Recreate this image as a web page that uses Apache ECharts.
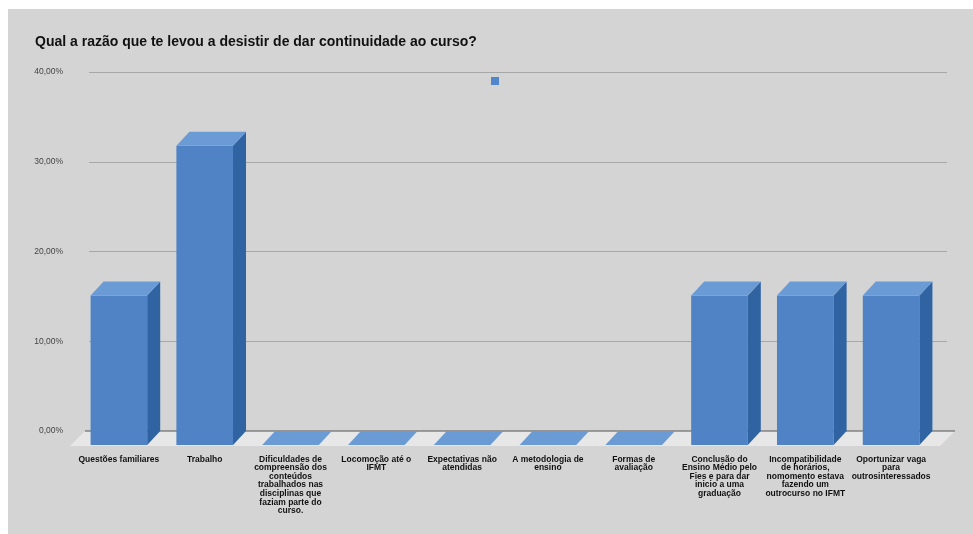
<!DOCTYPE html>
<html>
<head>
<meta charset="utf-8">
<script src="https://cdn.jsdelivr.net/npm/echarts@6/dist/echarts.min.js"></script>
<style>
html,body{margin:0;padding:0;background:#fff;width:973px;height:534px;overflow:hidden;}
#c{position:absolute;left:8px;top:9px;width:965px;height:525px;}
</style>
</head>
<body>
<div id="c"></div>
<script>
var titleText = 'Qual a razão que te levou a desistir de dar continuidade ao curso?';
var categories = [
  'Questões familiares',
  'Trabalho',
  'Dificuldades de\ncompreensão dos\nconteúdos\ntrabalhados nas\ndisciplinas que\nfaziam parte do\ncurso.',
  'Locomoção até o\nIFMT',
  'Expectativas não\natendidas',
  'A metodologia de\nensino',
  'Formas de\navaliação',
  'Conclusão do\nEnsino Médio pelo\nFies e para dar\ninicio a uma\ngraduação',
  'Incompatibilidade\nde horários,\nnomomento estava\nfazendo um\noutrocurso no IFMT',
  'Oportunizar vaga\npara\noutrosinteressados'
];
var values = [16.67, 33.33, 0, 0, 0, 0, 0, 16.67, 16.67, 16.67];
var yTicks = [0, 10, 20, 30, 40];

var FRONT = '#5083c6', SIDE = '#3063a2', TOP = '#6a9bd5';
var DX = 13, DY = 14;
var FONT = '"Liberation Sans", Arial, sans-serif';

var chart = echarts.init(document.getElementById('c'));
chart.setOption({
  backgroundColor: '#d4d4d4',
  animation: false,
  title: {
    text: titleText, left: 27, top: 26, padding: 0,
    textStyle: {fontFamily: FONT, fontSize: 14, fontWeight: 'bold', color: '#111'}
  },
  graphic: [{type: 'rect', left: 483, top: 68, shape: {width: 8, height: 8}, style: {fill: '#4f86cc'}}],
  grid: {left: 81, right: 26, top: 63, bottom: 103},
  xAxis: {
    type: 'category', data: categories,
    axisLine: {show: false}, axisTick: {show: false},
    axisLabel: {
      interval: 0, margin: 24, padding: [0, 26, 0, 0],
      fontFamily: FONT, fontSize: 8.5, fontWeight: 'bold', color: '#111', lineHeight: 8.6
    }
  },
  yAxis: {
    type: 'value', min: yTicks[0], max: yTicks[yTicks.length - 1], interval: 10,
    axisLine: {show: false}, axisTick: {show: false},
    axisLabel: {
      margin: 26, fontFamily: FONT, fontSize: 8.5, color: '#444',
      formatter: function (v) { return v.toFixed(2).replace('.', ',') + '%'; }
    },
    splitLine: {lineStyle: {color: '#a6a8a7', width: 1}}
  },
  series: [
    {
      type: 'custom', z: 1, silent: true,
      data: [[0, 0]],
      renderItem: function (params, api) {
        var cs = params.coordSys;
        var b = api.coord([0, 0])[1];
        var l = cs.x - 4, r = cs.x + cs.width + 8;
        return {type: 'group', children: [
          {type: 'polygon', shape: {points: [[l, b], [r, b], [r - DX - 2, b + DY + 1], [l - DX - 2, b + DY + 1]]}, style: {fill: '#e7e7e7'}},
          {type: 'line', shape: {x1: l, y1: b, x2: r, y2: b}, style: {stroke: '#555', lineWidth: 1}}
        ]};
      }
    },
    {
      type: 'custom', z: 3, silent: true,
      data: values.map(function (v, i) { return [i, v]; }),
      renderItem: function (params, api) {
        var idx = api.value(0), val = api.value(1);
        var top = api.coord([idx, val]);
        var base = api.coord([idx, 0]);
        var bw = api.size([1, 0])[0] * 0.66, hw = bw / 2;
        var x0 = top[0] - DX - hw, x1 = top[0] - DX + hw;
        var yT = top[1] + DY, yB = base[1] + DY;
        var ch = [];
        if (yB - yT > 0.5) {
          ch.push({type: 'rect', shape: {x: x0, y: yT, width: bw, height: yB - yT}, style: {fill: FRONT}});
          ch.push({type: 'polygon', shape: {points: [[x1, yT], [x1 + DX, yT - DY], [x1 + DX, yB - DY], [x1, yB]]}, style: {fill: SIDE}});
        }
        ch.push({type: 'polygon', shape: {points: [[x0, yT], [x1, yT], [x1 + DX, yT - DY], [x0 + DX, yT - DY]]}, style: {fill: TOP}});
        return {type: 'group', children: ch};
      }
    }
  ]
});
</script>
</body>
</html>
